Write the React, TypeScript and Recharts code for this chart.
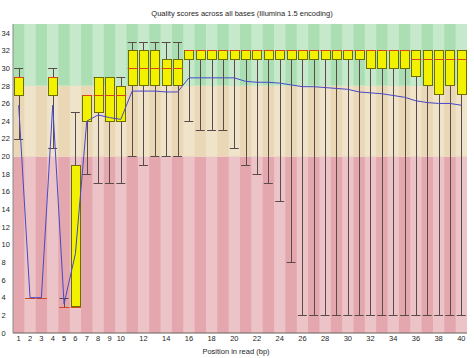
import { ComposedChart, Bar, Line, XAxis, YAxis, ReferenceArea } from 'recharts';

const positions = [
  1, 2, 3, 4, 5, 6, 7, 8, 9, 10, 11, 12, 13, 14, 15, 16, 17, 18, 19, 20,
  21, 22, 23, 24, 25, 26, 27, 28, 29, 30, 31, 32, 33, 34, 35, 36, 37, 38, 39, 40,
];
const whiskerLow = [
  22, 4, 4, 21, 3, 3, 18, 17, 17, 17, 20, 19, 20, 20, 20, 24, 23, 23, 23, 21,
  19, 18, 17, 15, 8, 2, 2, 2, 2, 2, 2, 2, 2, 2, 2, 2, 2, 2, 2, 2,
];
const whiskerHigh = [
  30, 4, 4, 30, 4, 25, 27, 29, 29, 29, 33, 33, 33, 33, 33, 32, 32, 32, 32, 32,
  32, 32, 32, 32, 32, 32, 32, 32, 32, 32, 32, 32, 32, 32, 32, 32, 32, 32, 32, 32,
];
const lowerQuartile = [
  27, 4, 4, 27, 3, 3, 24, 25, 24, 24, 28, 28, 28, 28, 28, 31, 31, 31, 31, 31,
  31, 31, 31, 31, 31, 31, 31, 31, 31, 31, 31, 30, 30, 30, 30, 29, 28, 27, 28, 27,
];
const upperQuartile = [
  29, 4, 4, 29, 3, 19, 27, 29, 29, 28, 32, 32, 32, 31, 31, 32, 32, 32, 32, 32,
  32, 32, 32, 32, 32, 32, 32, 32, 32, 32, 32, 32, 32, 32, 32, 32, 32, 32, 32, 32,
];
const medians = [
  29, 4, 4, 29, 3, 3, 27, 27, 27, 27, 30, 30, 30, 30, 30, 32, 32, 32, 32, 32,
  32, 32, 32, 32, 32, 32, 32, 32, 32, 32, 32, 32, 32, 32, 32, 31, 31, 31, 31, 31,
];
const means = [
  25.8, 4, 4, 25.8, 3.3, 9, 24, 24.7, 24.4, 24.2, 27.4, 27.4, 27.4, 27.3, 27.3, 28.9, 28.9, 28.9, 28.9, 28.9,
  28.5, 28.4, 28.4, 28.3, 28.1, 27.9, 27.9, 27.8, 27.7, 27.6, 27.3, 27.2, 27.1, 26.9, 26.7, 26.3, 26.1, 26.0, 26.0, 25.8,
];
const xTickLabels = [
  '1', '2', '3', '4', '5', '6', '7', '8', '9', '10', '12', '14', '16', '18', '20',
  '22', '24', '26', '28', '30', '32', '34', '36', '38', '40',
];
const yTicks = [0, 2, 4, 6, 8, 10, 12, 14, 16, 18, 20, 22, 24, 26, 28, 30, 32, 34];

// quality zones: poor / reasonable / good
const zones = [
  { from: 0, to: 20, dark: '#e4a7ad', light: '#ecc3c6' },
  { from: 20, to: 28, dark: '#e9d7b5', light: '#efe3ca' },
  { from: 28, to: 35, dark: '#abdfb3', light: '#c7e9cb' },
];

const data = positions.map((pos, i) => ({
  pos,
  whisker: [whiskerLow[i], whiskerHigh[i]],
  box: [lowerQuartile[i], upperQuartile[i]],
  median: [medians[i], medians[i]],
  mean: means[i],
}));

const font = '"Liberation Sans", Arial, sans-serif';
const textColor = '#262626';

function WhiskerShape(props: any) {
  const { x, y, width, height } = props;
  const cx = Math.round(x + width / 2) + 0.5;
  const top = Math.round(y) + 0.5;
  const bottom = Math.round(y + height) + 0.5;
  return (
    <g stroke="#5a4a4a" strokeWidth={1}>
      <line x1={cx} x2={cx} y1={top} y2={bottom} />
      <line x1={x} x2={x + width} y1={top} y2={top} />
      <line x1={x} x2={x + width} y1={bottom} y2={bottom} />
    </g>
  );
}

function BoxShape(props: any) {
  const { x, y, width, height } = props;
  return (
    <rect
      x={Math.round(x) + 0.5}
      y={Math.round(y) + 0.5}
      width={Math.round(width)}
      height={Math.max(Math.round(height), 0)}
      fill="#f2f200"
      stroke="#6e6e00"
      strokeWidth={1}
    />
  );
}

function MedianShape(props: any) {
  const { x, y, width } = props;
  const yy = Math.round(y) + 0.5;
  return <line x1={x} x2={x + width + 1} y1={yy} y2={yy} stroke="#d8461a" strokeWidth={1} />;
}

function YTick(props: any) {
  const { x, y, payload } = props;
  return (
    <text x={x - 11.5} y={y} dy="0.36em" textAnchor="start" fontSize={7.5} fontFamily={font} fill={textColor}>
      {payload.value}
    </text>
  );
}

export default function App() {
  return (
    <div style={{ position: 'absolute', left: 0, top: 0, width: 474, height: 358, background: '#fff', fontFamily: font }}>
      <div
        style={{
          position: 'absolute', left: 0, width: 484, top: 9, textAlign: 'center',
          fontSize: 7.5, color: textColor, lineHeight: '10px',
        }}
      >
        Quality scores across all bases (Illumina 1.5 encoding)
      </div>
      <div
        style={{
          position: 'absolute', left: 0, width: 472, top: 347, textAlign: 'center',
          fontSize: 7.5, color: textColor, lineHeight: '10px',
        }}
      >
        Position in read (bp)
      </div>
      <ComposedChart
        width={474}
        height={358}
        data={data}
        margin={{ top: 24, right: 7, left: 0, bottom: 0 }}
        barCategoryGap="10%"
      >
        <XAxis
          dataKey="pos"
          interval={0}
          height={25}
          tickLine={false}
          tickSize={0}
          tickMargin={3}
          tick={{ fontSize: 7.5, fill: textColor, fontFamily: font }}
          tickFormatter={(v) => (xTickLabels.includes(String(v)) ? String(v) : '')}
          axisLine={{ stroke: '#6a6060' }}
        />
        <XAxis xAxisId="w" dataKey="pos" hide />
        <XAxis xAxisId="b" dataKey="pos" hide />
        <XAxis xAxisId="m" dataKey="pos" hide />
        <YAxis
          domain={[0, 35]}
          ticks={yTicks}
          width={13}
          tickSize={0}
          tickMargin={0}
          interval={0}
          tick={<YTick />}
          axisLine={{ stroke: '#8a8a8a' }}
          tickLine={false}
        />

        {zones.map((z) => (
          <ReferenceArea key={`z${z.from}`} y1={z.from} y2={z.to} fill={z.dark} fillOpacity={1} stroke="none" />
        ))}
        {zones.map((z) =>
          positions
            .filter((p) => p % 2 === 0)
            .map((p) => (
              <ReferenceArea
                key={`s${z.from}-${p}`}
                x1={p}
                x2={p}
                y1={z.from}
                y2={z.to}
                fill={z.light}
                fillOpacity={1}
                stroke="none"
              />
            ))
        )}

        <Bar xAxisId="w" dataKey="whisker" shape={<WhiskerShape />} isAnimationActive={false} />
        <Bar xAxisId="b" dataKey="box" shape={<BoxShape />} isAnimationActive={false} />
        <Bar xAxisId="m" dataKey="median" shape={<MedianShape />} isAnimationActive={false} />
        <Line
          dataKey="mean"
          type="linear"
          stroke="#4848c8"
          strokeWidth={1}
          dot={false}
          activeDot={false}
          isAnimationActive={false}
        />
      </ComposedChart>
    </div>
  );
}
